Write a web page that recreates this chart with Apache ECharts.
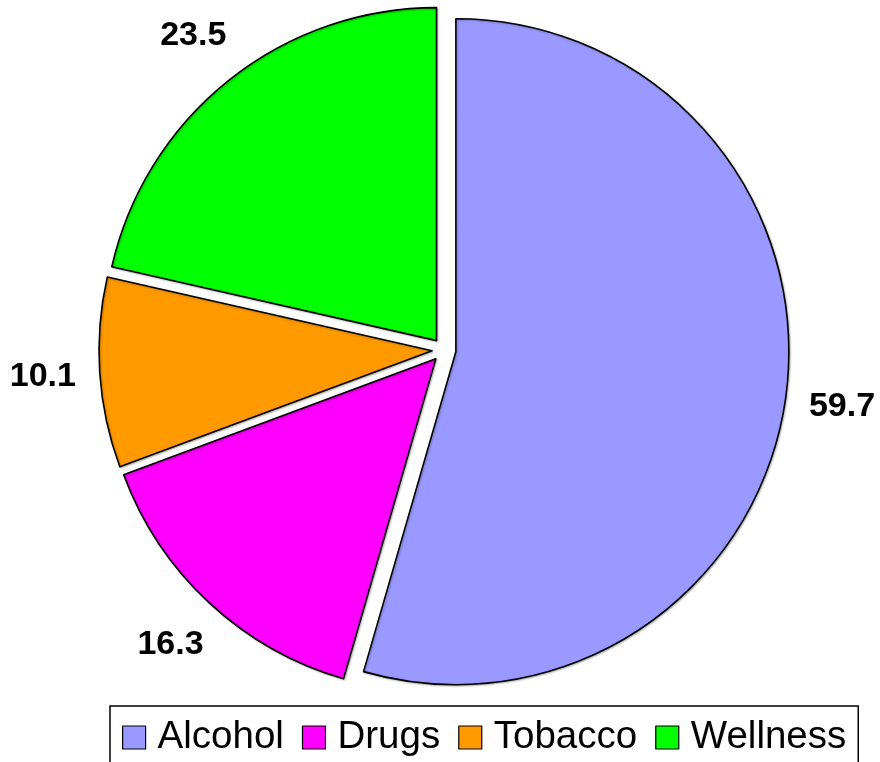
<!DOCTYPE html>
<html>
<head>
<meta charset="utf-8">
<script src="https://cdn.jsdelivr.net/npm/echarts@6/dist/echarts.min.js"></script>
<style>
  html, body { margin: 0; padding: 0; background: #ffffff; }
  #chart { width: 880px; height: 762px; }
</style>
</head>
<body>
<div id="chart"></div>
<script>
const categories = ['Alcohol', 'Drugs', 'Tobacco', 'Wellness'];
const values = [59.7, 16.3, 10.1, 23.5];
const colors = ['#9999ff', '#ff00ff', '#ff9900', '#00ff00'];

const fontFamily = 'Arial, "Liberation Sans", sans-serif';
const pieCenter = [444, 350];

const sliceData = categories.map((name, index) => ({
  name: name,
  value: values[index],
  selected: true,
  itemStyle: { color: colors[index] }
}));

// transparent ring used only to place the value labels outside the slices
const labelData = categories.map((name, index) => ({
  name: name,
  value: values[index]
}));

const chart = echarts.init(document.querySelector('#chart'), null, { renderer: 'canvas' });
chart.setOption({
  animation: false,
  legend: {
    data: categories,
    left: 110,
    top: 706,
    orient: 'horizontal',
    icon: 'path://M0,0h10v10h-10z',
    itemWidth: 37,
    itemHeight: 23,
    itemGap: 18,
    padding: [12, 12, 40, 12],
    borderColor: '#000000',
    borderWidth: 1.5,
    selectedMode: false,
    itemStyle: { borderColor: '#000000', borderWidth: 1.2 },
    textStyle: {
      fontFamily: fontFamily,
      fontSize: 38.5,
      lineHeight: 36,
      color: '#000000'
    }
  },
  series: [
    {
      name: 'Slices',
      type: 'pie',
      center: pieCenter,
      radius: 333,
      startAngle: 90,
      clockwise: true,
      selectedMode: 'multiple',
      selectedOffset: 12,
      silent: true,
      label: { show: false },
      labelLine: { show: false },
      itemStyle: {
        borderColor: '#000000',
        borderWidth: 1.6,
        shadowColor: 'rgba(0,0,0,0.25)',
        shadowBlur: 2,
        shadowOffsetX: 1,
        shadowOffsetY: 1
      },
      emphasis: { disabled: true },
      data: sliceData
    },
    {
      name: 'Labels',
      type: 'pie',
      center: pieCenter,
      radius: [383, 415],
      startAngle: 90,
      clockwise: true,
      silent: true,
      itemStyle: { color: 'rgba(0,0,0,0)', borderWidth: 0 },
      label: {
        show: true,
        position: 'inside',
        formatter: '{c}',
        fontFamily: fontFamily,
        fontSize: 34,
        fontWeight: 'bold',
        color: '#000000'
      },
      labelLine: { show: false },
      emphasis: { disabled: true },
      data: labelData
    }
  ]
});
</script>
</body>
</html>
